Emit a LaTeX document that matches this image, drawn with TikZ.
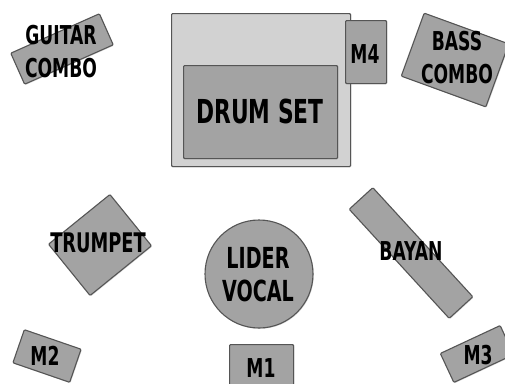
\documentclass[tikz,border=0pt]{standalone}
\usepackage{fontspec}
\setmainfont{DejaVu Sans}
\usetikzlibrary{shadows}
\definecolor{boxfill}{RGB}{163,163,163}
\definecolor{boxline}{RGB}{85,85,85}
\definecolor{drumarea}{RGB}{210,210,210}
\tikzset{
  shp/.style={draw=boxline, line width=1.1pt, fill=boxfill, inner sep=0pt,
    drop shadow={shadow xshift=0.8pt, shadow yshift=-0.8pt, opacity=0.3}},
  rbox/.style={shp, rectangle, rounded corners=1pt},
  lbl/.style={font=\bfseries\fontsize{#1}{33}\selectfont, xscale=0.66, inner sep=0pt, align=center, text=black},
}
\begin{document}
\begin{tikzpicture}[x=1pt,y=1pt]
\clip (0,0) rectangle (505,-383);
\fill[white] (0,0) rectangle (505,-383);
% drum area
\node[rbox, fill=drumarea, anchor=north west, minimum width=179pt, minimum height=153pt] (drumarea) at (171,-13) {};
\node[rbox, anchor=north west, minimum width=154pt, minimum height=93pt] (drum) at (183,-65) {};
\node[rbox, anchor=north west, minimum width=41pt, minimum height=63pt] (m4) at (345,-20) {};
% rotated boxes
\node[rbox, minimum width=97pt, minimum height=34pt, rotate=24] (guitar) at (62,-49) {};
\node[rbox, minimum width=90pt, minimum height=67pt, rotate=-20] (bass) at (455,-60) {};
\node[rbox, minimum width=79pt, minimum height=66pt, rotate=39] (trumpet) at (100,-245) {};
\node[rbox, minimum width=148pt, minimum height=32pt, rotate=-47.5] (bayan) at (411,-253) {};
\node[shp, circle, minimum size=108pt] (vocal) at (259,-274) {};
\node[rbox, minimum width=60pt, minimum height=35pt, rotate=-19] (m2) at (47,-356) {};
\node[rbox, anchor=north west, minimum width=64pt, minimum height=60pt] (m1) at (229,-344) {};
\node[rbox, minimum width=66pt, minimum height=32pt, rotate=25] (m3) at (477,-354) {};
% labels
\node[lbl=26] (guitarT) at (61,-52) {GUITAR\\COMBO};
\node[lbl=26] (bassT) at (457,-58) {BASS\\COMBO};
\node[lbl=33] (drumT) at (260,-111) {DRUM SET};
\node[lbl=26] (m4T) at (365,-54) {M4};
\node[lbl=27] (trumpetT) at (98,-243) {TRUMPET};
\node[lbl=29] (vocalT) at (258,-275) {LIDER\\VOCAL};
\node[lbl=26] (bayanT) at (411,-251) {BAYAN};
\node[lbl=26] (m2T) at (45,-356) {M2};
\node[lbl=26] (m1T) at (261,-368) {M1};
\node[lbl=26] (m3T) at (478,-355) {M3};
\end{tikzpicture}
\end{document}
